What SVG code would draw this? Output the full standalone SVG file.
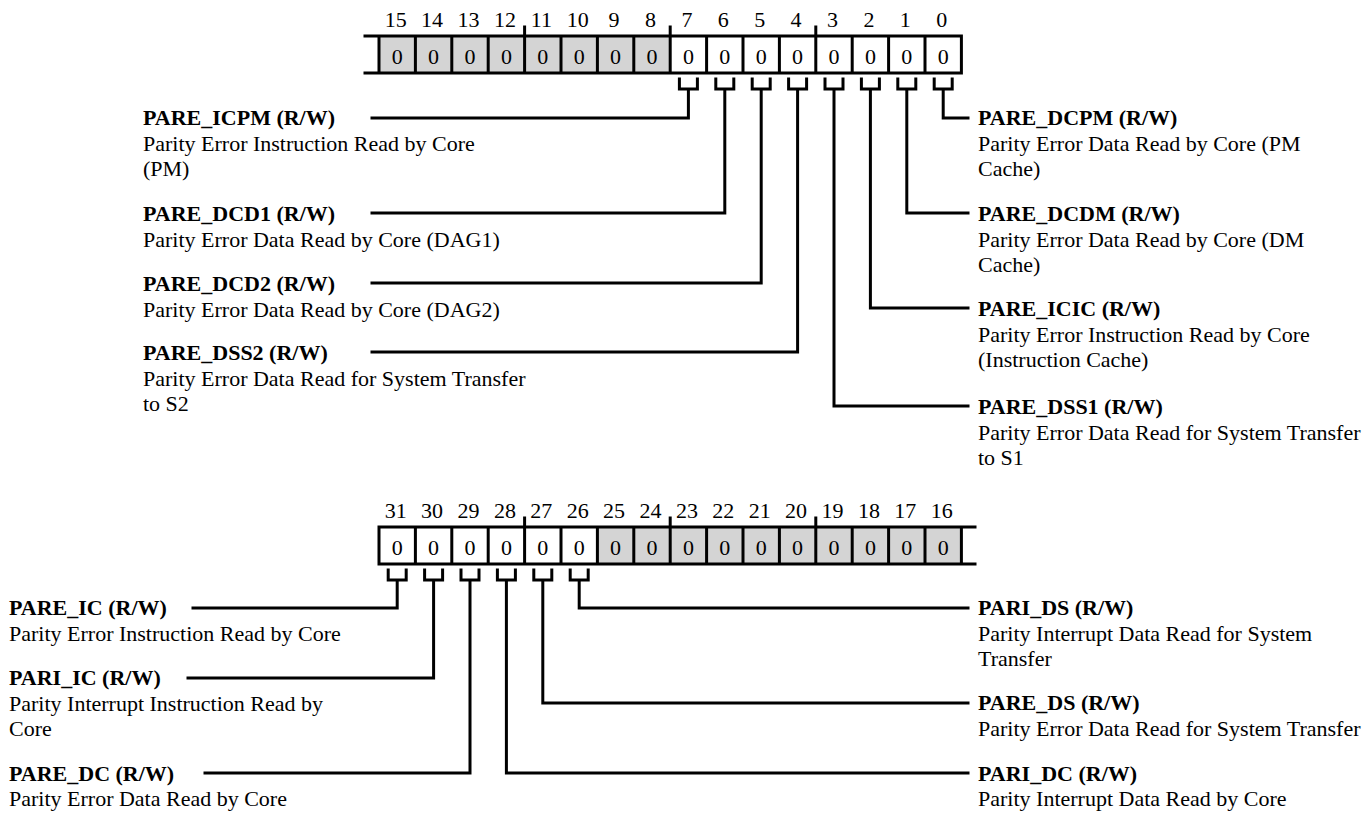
<svg xmlns="http://www.w3.org/2000/svg" width="1369" height="813" viewBox="0 0 1369 813">
<style>
text{font-family:"Liberation Serif","Times New Roman",serif;font-size:22px;fill:#000}
.b{font-weight:bold}
.num{text-anchor:middle}
.z{font-size:24px}
.ln{fill:none;stroke:#000;stroke-width:3;stroke-linecap:square;stroke-linejoin:miter}
.g{fill:#d4d4d4}
.w{fill:#fff}
</style>
<rect width="1369" height="813" fill="#fff"/>
<g id="reg-low">
<rect class="g" x="379" y="36" width="291.2" height="37"/>
<rect class="w" x="670.2" y="36" width="291.2" height="37"/>
<path class="ln" d="M365,36H961.4M365,73H961.4M379,36V73M415.4,36V73M451.8,36V73M488.2,36V73M524.6,27V73M561,36V73M597.4,36V73M633.8,36V73M670.2,27V73M706.6,36V73M743,36V73M779.4,36V73M815.8,27V73M852.2,36V73M888.6,36V73M925,36V73M961.4,36V73"/>
<g class="num">
<text x="395.7" y="27">15</text><text x="432.1" y="27">14</text><text x="468.5" y="27">13</text><text x="504.9" y="27">12</text><text x="541.3" y="27">11</text><text x="577.7" y="27">10</text><text x="614.1" y="27">9</text><text x="650.5" y="27">8</text><text x="686.9" y="27">7</text><text x="723.3" y="27">6</text><text x="759.7" y="27">5</text><text x="796.1" y="27">4</text><text x="832.5" y="27">3</text><text x="868.9" y="27">2</text><text x="905.3" y="27">1</text><text x="941.7" y="27">0</text>
</g>
<g class="num z">
<text x="397.2" y="63.5">0</text><text x="433.6" y="63.5">0</text><text x="470" y="63.5">0</text><text x="506.4" y="63.5">0</text><text x="542.8" y="63.5">0</text><text x="579.2" y="63.5">0</text><text x="615.6" y="63.5">0</text><text x="652" y="63.5">0</text><text x="688.4" y="63.5">0</text><text x="724.8" y="63.5">0</text><text x="761.2" y="63.5">0</text><text x="797.6" y="63.5">0</text><text x="834" y="63.5">0</text><text x="870.4" y="63.5">0</text><text x="906.8" y="63.5">0</text><text x="943.2" y="63.5">0</text>
</g>
</g>
<g id="reg-high">
<rect class="w" x="379" y="527" width="218.4" height="37"/>
<rect class="g" x="597.4" y="527" width="364" height="37"/>
<path class="ln" d="M379,527H975M379,564H975M379,527V564M415.4,527V564M451.8,527V564M488.2,527V564M524.6,518V564M561,527V564M597.4,527V564M633.8,527V564M670.2,518V564M706.6,527V564M743,527V564M779.4,527V564M815.8,518V564M852.2,527V564M888.6,527V564M925,527V564M961.4,527V564"/>
<g class="num">
<text x="395.7" y="518">31</text><text x="432.1" y="518">30</text><text x="468.5" y="518">29</text><text x="504.9" y="518">28</text><text x="541.3" y="518">27</text><text x="577.7" y="518">26</text><text x="614.1" y="518">25</text><text x="650.5" y="518">24</text><text x="686.9" y="518">23</text><text x="723.3" y="518">22</text><text x="759.7" y="518">21</text><text x="796.1" y="518">20</text><text x="832.5" y="518">19</text><text x="868.9" y="518">18</text><text x="905.3" y="518">17</text><text x="941.7" y="518">16</text>
</g>
<g class="num z">
<text x="397.2" y="554.5">0</text><text x="433.6" y="554.5">0</text><text x="470" y="554.5">0</text><text x="506.4" y="554.5">0</text><text x="542.8" y="554.5">0</text><text x="579.2" y="554.5">0</text><text x="615.6" y="554.5">0</text><text x="652" y="554.5">0</text><text x="688.4" y="554.5">0</text><text x="724.8" y="554.5">0</text><text x="761.2" y="554.5">0</text><text x="797.6" y="554.5">0</text><text x="834" y="554.5">0</text><text x="870.4" y="554.5">0</text><text x="906.8" y="554.5">0</text><text x="943.2" y="554.5">0</text>
</g>
</g>
<g id="connectors">
<path class="ln" d="M679.4,79V89H697.4V79M688.4,89V118H372"/>
<path class="ln" d="M715.8,79V89H733.8V79M724.8,89V213H372"/>
<path class="ln" d="M752.2,79V89H770.2V79M761.2,89V283H372"/>
<path class="ln" d="M788.6,79V89H806.6V79M797.6,89V352H372"/>
<path class="ln" d="M825,79V89H843V79M834,89V406H968"/>
<path class="ln" d="M861.4,79V89H879.4V79M870.4,89V308H968"/>
<path class="ln" d="M897.8,79V89H915.8V79M906.8,89V213H968"/>
<path class="ln" d="M934.2,79V89H952.2V79M943.2,89V118H968"/>
<path class="ln" d="M388.2,570V580H406.2V570M397.2,580V608H193"/>
<path class="ln" d="M424.6,570V580H442.6V570M433.6,580V678H188"/>
<path class="ln" d="M461,570V580H479V570M470,580V773H205"/>
<path class="ln" d="M497.4,570V580H515.4V570M506.4,580V773H968"/>
<path class="ln" d="M533.8,570V580H551.8V570M542.8,580V703H968"/>
<path class="ln" d="M570.2,570V580H588.2V570M579.2,580V608H968"/>
</g>
<g id="f-pare-icpm"><text class="b" x="143" y="125">PARE_ICPM (R/W)</text><text x="143" y="151">Parity Error Instruction Read by Core</text><text x="143" y="176">(PM)</text></g>
<g id="f-pare-dcd1"><text class="b" x="143" y="221">PARE_DCD1 (R/W)</text><text x="143" y="247">Parity Error Data Read by Core (DAG1)</text></g>
<g id="f-pare-dcd2"><text class="b" x="143" y="291">PARE_DCD2 (R/W)</text><text x="143" y="317">Parity Error Data Read by Core (DAG2)</text></g>
<g id="f-pare-dss2"><text class="b" x="143" y="360">PARE_DSS2 (R/W)</text><text x="143" y="386">Parity Error Data Read for System Transfer</text><text x="143" y="411">to S2</text></g>
<g id="f-pare-dcpm"><text class="b" x="978" y="125">PARE_DCPM (R/W)</text><text x="978" y="151">Parity Error Data Read by Core (PM</text><text x="978" y="176">Cache)</text></g>
<g id="f-pare-dcdm"><text class="b" x="978" y="221">PARE_DCDM (R/W)</text><text x="978" y="247">Parity Error Data Read by Core (DM</text><text x="978" y="272">Cache)</text></g>
<g id="f-pare-icic"><text class="b" x="978" y="316">PARE_ICIC (R/W)</text><text x="978" y="342">Parity Error Instruction Read by Core</text><text x="978" y="367">(Instruction Cache)</text></g>
<g id="f-pare-dss1"><text class="b" x="978" y="414">PARE_DSS1 (R/W)</text><text x="978" y="440">Parity Error Data Read for System Transfer</text><text x="978" y="465">to S1</text></g>
<g id="f-pare-ic"><text class="b" x="9" y="615">PARE_IC (R/W)</text><text x="9" y="641">Parity Error Instruction Read by Core</text></g>
<g id="f-pari-ic"><text class="b" x="9" y="685">PARI_IC (R/W)</text><text x="9" y="711">Parity Interrupt Instruction Read by</text><text x="9" y="736">Core</text></g>
<g id="f-pare-dc"><text class="b" x="9" y="781">PARE_DC (R/W)</text><text x="9" y="806">Parity Error Data Read by Core</text></g>
<g id="f-pari-ds"><text class="b" x="978" y="615">PARI_DS (R/W)</text><text x="978" y="641">Parity Interrupt Data Read for System</text><text x="978" y="666">Transfer</text></g>
<g id="f-pare-ds"><text class="b" x="978" y="710">PARE_DS (R/W)</text><text x="978" y="736">Parity Error Data Read for System Transfer</text></g>
<g id="f-pari-dc"><text class="b" x="978" y="781">PARI_DC (R/W)</text><text x="978" y="806">Parity Interrupt Data Read by Core</text></g>
</svg>
